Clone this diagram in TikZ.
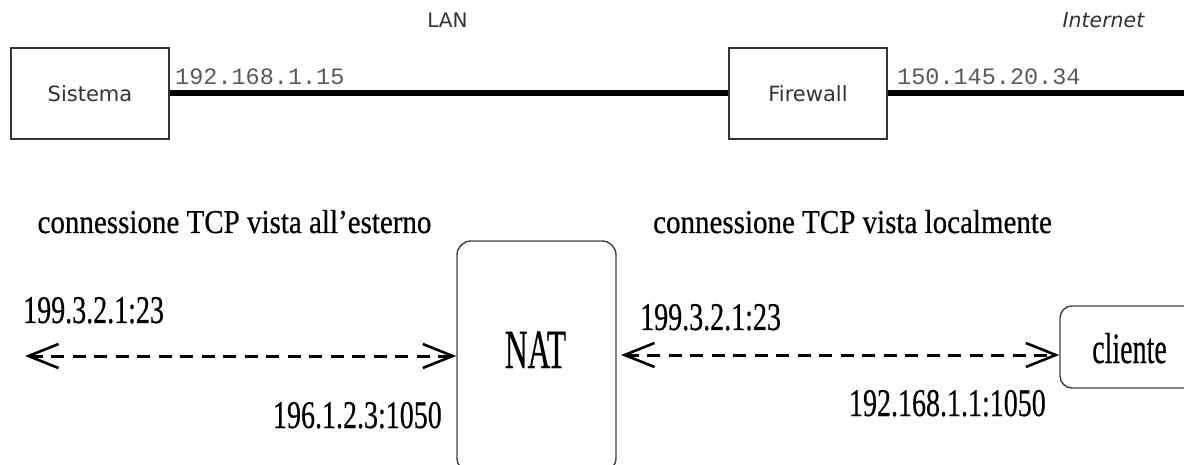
\documentclass[tikz,border=0pt]{standalone}
\usepackage{fontspec}
\usepackage{graphicx}
\setmainfont{Liberation Serif}[FakeBold=0.6]
\setsansfont{DejaVu Sans}
\setmonofont{Liberation Mono}
\usetikzlibrary{arrows.meta}
\newcommand\vstr[2]{\scalebox{1}[#1]{#2}}
\tikzset{barb/.tip={Straight Barb[length=30pt,width=24pt,line width=2.6pt]}}
\begin{document}
\begin{tikzpicture}[x=1pt,y=-1pt,
  box/.style={draw=black!80, line width=1.4pt, fill=white, inner sep=0pt,
    font=\fontsize{21}{25}\sffamily, text=black!80},
  rbox/.style={draw=black!75, line width=1.4pt, rounded corners=14pt, inner sep=0pt},
  sanslbl/.style={font=\fontsize{20}{24}\sffamily, text=black!80, inner sep=0pt, anchor=base},
  ip/.style={font=\fontsize{23.5}{28}\ttfamily, text=black!65, inner sep=0pt, anchor=base west},
  wire/.style={line width=6pt},
  serif/.style={inner sep=0pt, anchor=base},
  head/.style={serif, font=\fontsize{29}{34}\selectfont},
  num/.style={inner sep=0pt, font=\fontsize{28}{32}\selectfont},
  darr/.style={line width=3pt, dash pattern=on 13pt off 8.5pt, barb-barb}
]
\clip (0,0) rectangle (1184,465);
% top network
\node[box, minimum width=158pt, minimum height=91pt] (sis) at (90,93.5) {Sistema};
\node[box, minimum width=158pt, minimum height=91pt] (fw) at (808,93.5) {Firewall};
\coordinate (netend) at (1190,93.5);
\draw[wire] (sis.east) -- (fw.west);
\draw[wire] (fw.east) -- (netend);
\node[ip] (ipsis) at (175,85) {192.168.1.15};
\node[ip] (ipfw) at (897,85) {150.145.20.34};
\node[sanslbl] (lan) at (447.5,28) {LAN};
\node[sanslbl, font=\fontsize{20.5}{24}\sffamily\itshape] (inet) at (1103.5,28) {Internet};
% bottom NAT
\node[head] (h1) at (234.5,233) {\vstr{1.15}{connessione TCP vista all’esterno}};
\node[head] (h2) at (852.5,233) {\vstr{1.15}{connessione TCP vista localmente}};
\node[rbox, minimum width=159pt, minimum height=231pt] (nat) at (536.5,356.5) {};
\node[serif, font=\fontsize{31.5}{36}\selectfont] (natt) at (535.5,368) {\vstr{1.75}{NAT}};
\node[rbox, rounded corners=12pt, minimum width=160pt, minimum height=82pt] (cli) at (1140,347) {};
\node[serif, font=\fontsize{28}{32}\selectfont] (clit) at (1129.5,363) {\vstr{1.55}{cliente}};
\node[num, anchor=base west] (n1) at (23,323) {\vstr{1.4}{199.3.2.1:23}};
\node[num, anchor=base east] (n2) at (442,428) {\vstr{1.4}{196.1.2.3:1050}};
\node[num, anchor=base west] (n3) at (640,330) {\vstr{1.4}{199.3.2.1:23}};
\node[num, anchor=base east] (n4) at (1046,416) {\vstr{1.4}{192.168.1.1:1050}};
\coordinate (la) at (25,356);
\draw[darr] (la) -- (la -| nat.west);
\coordinate (ra) at (621,355);
\draw[darr] (ra) -- (ra -| cli.west);
\end{tikzpicture}
\end{document}
